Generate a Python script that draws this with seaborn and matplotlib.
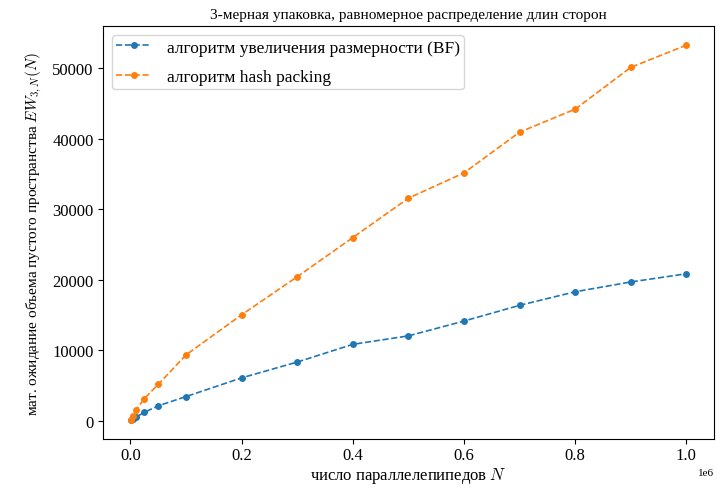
import matplotlib
matplotlib.use('Agg')
import matplotlib.pyplot as plt
import pandas as pd
import seaborn as sns

# Data
n_boxes = [1000, 5000, 10000, 25000, 50000, 100000, 200000, 300000, 400000, 500000,
           600000, 700000, 800000, 900000, 1000000]
bf_values = [80, 300, 550, 1210, 2140, 3450, 6100, 8340, 10850, 12050,
             14150, 16380, 18300, 19690, 20850]
hash_values = [150, 740, 1540, 3170, 5170, 9360, 15040, 20430, 25980, 31560,
               35150, 40920, 44180, 50100, 53250]

label_bf = 'алгоритм увеличения размерности (BF)'
label_hash = 'алгоритм hash packing'

df = pd.DataFrame({'N': n_boxes, 'bf': bf_values, 'hash': hash_values})

plt.rcParams['font.family'] = ['Liberation Serif', 'DejaVu Serif']
plt.rcParams['mathtext.fontset'] = 'cm'

fig, ax = plt.subplots(figsize=(7.17, 4.89), dpi=100)
sns.lineplot(data=df, x='N', y='bf', color='tab:blue', linestyle='--', marker='o',
             markersize=5, markeredgewidth=0, linewidth=1.2, label=label_bf, ax=ax)
sns.lineplot(data=df, x='N', y='hash', color='tab:orange', linestyle='--', marker='o',
             markersize=5, markeredgewidth=0, linewidth=1.2, label=label_hash, ax=ax)

ax.set_title('3-мерная упаковка, равномерное распределение длин сторон', fontsize=11)
ax.set_xlabel('число параллелепипедов $N$', fontsize=12, labelpad=1)
ax.set_ylabel('мат. ожидание объема пустого пространства $EW_{3,N}(N)$', fontsize=11,
              labelpad=6)
ax.legend(loc='upper left', fontsize=12.5, labelspacing=0.75, borderpad=0.25,
          handletextpad=0.9)
ax.tick_params(labelsize=12)
ax.tick_params(axis='x', pad=2.5)
ax.xaxis.get_offset_text().set_fontsize(8)

fig.subplots_adjust(left=0.144, right=0.996, bottom=0.1, top=0.944)
fig.savefig('out.png')
